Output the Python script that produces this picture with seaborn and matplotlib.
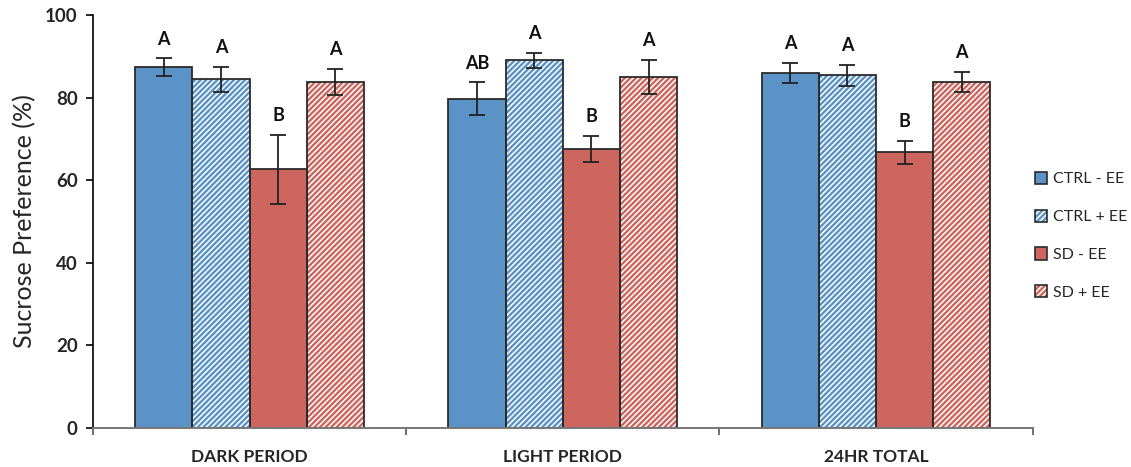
import matplotlib
matplotlib.use("Agg")
import matplotlib.pyplot as plt
import matplotlib.patches as mpatches
from matplotlib.legend_handler import HandlerTuple
from matplotlib.ticker import FixedLocator
import numpy as np
import pandas as pd
import seaborn as sns

# Sucrose preference by period and group
periods = ["DARK PERIOD", "LIGHT PERIOD", "24HR TOTAL"]
groups = ["CTRL - EE", "CTRL + EE", "SD - EE", "SD + EE"]

ctrl_minus_ee = [87.4, 79.7, 86.0]
ctrl_plus_ee = [84.4, 89.0, 85.4]
sd_minus_ee = [62.6, 67.5, 66.7]
sd_plus_ee = [83.8, 85.0, 83.8]

ctrl_minus_ee_sem = [2.1, 4.0, 2.4]
ctrl_plus_ee_sem = [3.1, 1.9, 2.5]
sd_minus_ee_sem = [8.4, 3.2, 2.8]
sd_plus_ee_sem = [3.1, 4.1, 2.5]

ctrl_minus_ee_sig = ["A", "AB", "A"]
ctrl_plus_ee_sig = ["A", "A", "A"]
sd_minus_ee_sig = ["B", "B", "B"]
sd_plus_ee_sig = ["A", "A", "A"]

y_ticks = [0, 20, 40, 60, 80, 100]

blue = "#5B93C7"
red = "#CD665E"
group_colors = [blue, blue, red, red]
group_hatched = [False, True, False, True]
hatch_pattern = "//////"

values = [ctrl_minus_ee, ctrl_plus_ee, sd_minus_ee, sd_plus_ee]
sems = [ctrl_minus_ee_sem, ctrl_plus_ee_sem, sd_minus_ee_sem, sd_plus_ee_sem]
sigs = [ctrl_minus_ee_sig, ctrl_plus_ee_sig, sd_minus_ee_sig, sd_plus_ee_sig]

df = pd.DataFrame({
    "period": [p for g in groups for p in periods],
    "group": [g for g in groups for _ in periods],
    "value": [v for vals in values for v in vals],
})

sns.set_theme(style="white")
plt.rcParams["font.family"] = ["Lato", "DejaVu Sans"]
plt.rcParams["hatch.linewidth"] = 1.1

fig = plt.figure(figsize=(11.31, 4.67), dpi=100)
ax = fig.add_axes([0.0822, 0.0835, 0.8308, 0.8845])

sns.barplot(data=df, x="period", y="value", hue="group", order=periods,
            hue_order=groups, palette=group_colors, errorbar=None,
            width=0.73, saturation=1, legend=False, ax=ax)

bar_containers = list(ax.containers)
for gi, container in enumerate(bar_containers):
    for pi, bar in enumerate(container):
        bar.set_facecolor(group_colors[gi])
        if group_hatched[gi]:
            bar.set_hatch(hatch_pattern)
            bar.set_edgecolor("white")
            bar.set_linewidth(0)
        else:
            bar.set_edgecolor("none")
        # outline drawn on top of the fill
        outline = mpatches.Rectangle(bar.get_xy(), bar.get_width(), bar.get_height(),
                                     fill=False, edgecolor="#2b2b2b", linewidth=1.3,
                                     zorder=bar.get_zorder() + 0.1)
        ax.add_patch(outline)
        cx = bar.get_x() + bar.get_width() / 2
        top = bar.get_height()
        err = sems[gi][pi]
        ax.errorbar(cx, top, yerr=err, fmt="none", ecolor="#222222",
                    elinewidth=1.3, capsize=6, capthick=1.3, zorder=5)
        ax.text(cx, top + err + 2.6, sigs[gi][pi], ha="center", va="bottom",
                fontsize=13, fontweight="bold", color="#111111")

ax.set_ylim(0, 100)
ax.set_xlim(-0.5, 2.5)
ax.set_yticks(y_ticks)
ax.set_yticklabels([str(t) for t in y_ticks], fontsize=13.5, fontweight="bold")
ax.set_xticks(range(len(periods)))
ax.set_xticklabels(periods, fontsize=12.5, fontweight="bold")
ax.xaxis.set_minor_locator(FixedLocator([-0.5, 0.5, 1.5, 2.5]))
ax.tick_params(axis="x", which="major", length=0, pad=15)
ax.tick_params(axis="x", which="minor", length=5, width=1.2, color="#555555",
               direction="out", bottom=True)
ax.tick_params(axis="y", length=5, width=1.2, color="black", direction="out",
               left=True, pad=6)
ax.set_xlabel("")
ax.set_ylabel("Sucrose Preference (%)", fontsize=18, labelpad=6)

for side in ["top", "right"]:
    ax.spines[side].set_visible(False)
ax.spines["left"].set_color("black")
ax.spines["left"].set_linewidth(1.2)
ax.spines["bottom"].set_color("#777777")
ax.spines["bottom"].set_linewidth(1.4)

handles = []
for gi, g in enumerate(groups):
    fill = mpatches.Patch(facecolor=group_colors[gi],
                          edgecolor="white" if group_hatched[gi] else "none",
                          hatch=hatch_pattern if group_hatched[gi] else None, linewidth=0)
    edge = mpatches.Patch(fill=False, edgecolor="#2b2b2b", linewidth=1.2)
    handles.append((fill, edge))

fig.legend(handles=handles, labels=groups, loc="center left",
           bbox_to_anchor=(0.902, 0.495), frameon=False, fontsize=11.5,
           handlelength=0.8, handleheight=0.8, handletextpad=0.35,
           labelspacing=1.45, handler_map={tuple: HandlerTuple(ndivide=1)})

fig.savefig("out.png", dpi=100)
